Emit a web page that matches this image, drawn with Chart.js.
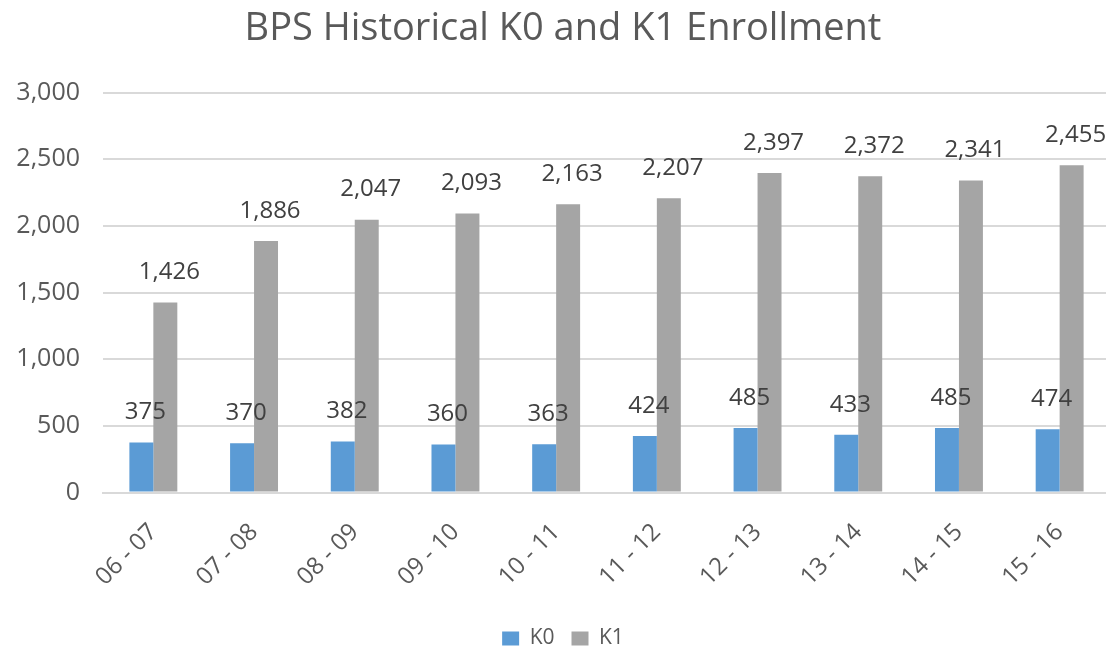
<!DOCTYPE html>
<html>
<head>
<meta charset="utf-8">
<script src="https://cdn.jsdelivr.net/npm/chart.js@4"></script>
<style>
html,body{margin:0;padding:0;overflow:hidden;background:#fff;}
#wrap{width:1140px;height:659px;position:relative;}
</style>
</head>
<body>
<div id="wrap"><canvas id="c" width="1140" height="659"></canvas></div>
<script>
const categories = ["06 - 07","07 - 08","08 - 09","09 - 10","10 - 11","11 - 12","12 - 13","13 - 14","14 - 15","15 - 16"];
const k0Values = [375,370,382,360,363,424,485,433,485,474];
const k1Values = [1426,1886,2047,2093,2163,2207,2397,2372,2341,2455];
const yTicks = [0,500,1000,1500,2000,2500,3000];

const FONT = "'Open Sans', 'Noto Sans', sans-serif";

const labelPlugin = {
  id: 'labels',
  afterDatasetsDraw(chart) {
    const ctx = chart.ctx;
    ctx.save();
    ctx.font = "24px " + FONT;
    ctx.fillStyle = '#404040';
    ctx.textAlign = 'center';
    ctx.textBaseline = 'middle';
    chart.data.datasets.forEach((ds, i) => {
      const meta = chart.getDatasetMeta(i);
      meta.data.forEach((bar, j) => {
        const v = ds.data[j];
        ctx.fillText(v.toLocaleString('en-US'), bar.x + 4, bar.y - 30);
      });
    });
    ctx.restore();
  }
};

new Chart(document.getElementById('c'), {
  type: 'bar',
  data: {
    labels: categories,
    datasets: [
      {label: 'K0', data: k0Values, backgroundColor: '#5b9bd5', categoryPercentage: 0.476, barPercentage: 1.0},
      {label: 'K1', data: k1Values, backgroundColor: '#a5a5a5', categoryPercentage: 0.476, barPercentage: 1.0}
    ]
  },
  options: {
    responsive: false,
    animation: false,
    layout: {padding: {left: 16, right: 30, top: 0, bottom: 0}},
    plugins: {
      title: {display: true, text: 'BPS Historical K0 and K1 Enrollment', color: '#595959',
        font: {family: FONT, size: 38, weight: 'normal'}, padding: {top: 6, bottom: 41}},
      legend: {position: 'bottom', labels: {color: '#595959', font: {family: FONT, size: 21},
        boxWidth: 17, boxHeight: 14, padding: 17}},
      tooltip: {enabled: false}
    },
    scales: {
      x: {
        afterFit(axis) { axis.paddingLeft = 0; axis.height -= 6; },
        grid: {display: false, drawTicks: false},
        border: {color: '#d9d9d9', width: 2},
        ticks: {color: '#595959', font: {family: FONT, size: 24}, maxRotation: 45, minRotation: 45, padding: 25.5}
      },
      y: {
        min: 0, max: 3000,
        afterFit(axis) { axis.width = 87; },
        afterBuildTicks(axis) { axis.ticks = yTicks.map(v => ({value: v})); },
        grid: {color: '#d9d9d9', lineWidth: 2, drawTicks: false},
        border: {display: false},
        ticks: {color: '#595959', font: {family: FONT, size: 25}, padding: 23,
          callback: v => v.toLocaleString('en-US')}
      }
    }
  },
  plugins: [labelPlugin]
});
</script>
</body>
</html>
